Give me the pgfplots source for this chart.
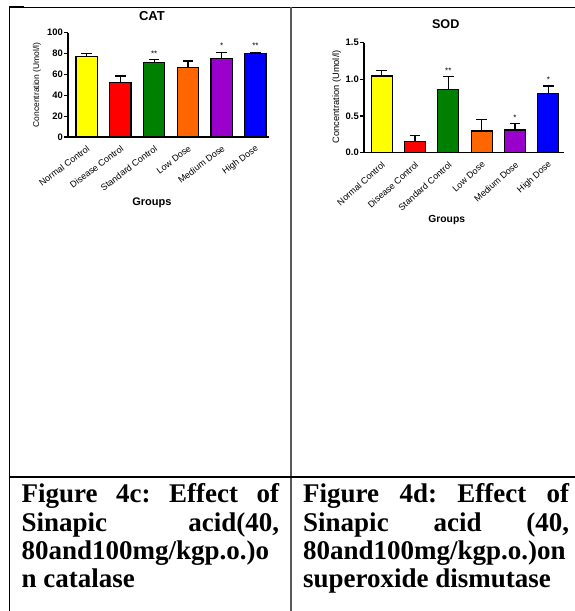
\documentclass[border=0pt]{standalone}
\usepackage{fontspec}
\setmainfont{Liberation Sans}
\newfontfamily\capfont{Liberation Serif}
\usepackage{pgfplots}
\pgfplotsset{compat=1.18}
\frenchspacing
\definecolor{cYellow}{RGB}{255,255,0}
\definecolor{cRed}{RGB}{255,0,0}
\definecolor{cGreen}{RGB}{0,128,0}
\definecolor{cOrange}{RGB}{255,102,0}
\definecolor{cPurple}{RGB}{153,0,204}
\definecolor{cBlue}{RGB}{0,0,255}
\pgfplotsset{
  prism/.style={
    scale only axis,
    axis x line*=bottom, axis y line*=left,
    axis line style={line width=1.3pt, -},
    ybar, ymin=0,
    xtick={0,...,5},
    xticklabels={Normal Control, Disease Control, Standard Control, Low Dose, Medium Dose, High Dose},
    x tick style={draw=none},
    y tick style={line width=1.1pt, black},
    tick align=outside,
    major tick length=4pt,
    every axis title shift=0pt,
    /pgf/number format/assume math mode=true,
    yticklabel style={font=\bfseries\fontsize{9.4}{10}\selectfont, inner sep=1pt},
    clip=false,
  },
  bb/.style={draw=black, line width=1.2pt, bar shift=0pt, bar width=0.63,
    error bars/y dir=plus, error bars/y explicit,
    error bars/error bar style={line width=1.2pt, black},
    error bars/error mark options={rotate=90, black, line width=1.2pt, mark size=5.3pt}},
  stars/.style={draw=none, fill=none, bar shift=0pt, bar width=0.63, forget plot,
    nodes near coords, point meta=explicit symbolic,
    every node near coord/.style={anchor=center, inner sep=0pt, black, font=\fontsize{8}{8}\selectfont}},
}
\begin{document}
\begin{tikzpicture}
\useasboundingbox (0,0) rectangle (575pt,-611pt);
% table rules
\draw[line width=1.5pt] (9.5pt,-7pt) -- (9.5pt,-611pt);
\draw[line width=1pt] (9pt,-7pt) -- (575pt,-7pt);
\draw[line width=2pt] (9pt,-7pt) -- (24pt,-7pt);
\draw[line width=1.5pt, black!65] (291pt,-7pt) -- (291pt,-611pt);
\draw[line width=1.5pt] (9pt,-477pt) -- (575pt,-477pt);

% CAT
\begin{axis}[prism,
  at={(68pt,-137pt)}, anchor=south west,
  width=201.3pt, height=104.3pt,
  xmin=-0.55, xmax=5.41, ymax=100,
  ytick={0,20,40,60,80,100},
  xticklabel style={font=\fontsize{9}{10}\selectfont, inner sep=0pt, anchor=east, xshift=2pt, yshift=-6.5pt, rotate=37},
  title={CAT},
  title style={at={(axis description cs:0.417,1.16)}, anchor=center, font=\bfseries\fontsize{13}{13}\selectfont},
  xlabel={Groups},
  xlabel style={at={(axis description cs:0.417,-0.635)}, anchor=center, font=\bfseries\fontsize{11}{11}\selectfont},
  ylabel={Concentration (Umol/l)},
  ylabel style={at={(axis description cs:-0.154,0.499)}, anchor=center, font=\fontsize{8.5}{9}\selectfont},
]
\addplot[bb, fill=cYellow] coordinates {(0,77) +- (0,3.2)};
\addplot[bb, fill=cRed] coordinates {(1,52) +- (0,6.5)};
\addplot[bb, fill=cGreen] coordinates {(2,71.2) +- (0,3.3)};
\addplot[bb, fill=cOrange] coordinates {(3,67) +- (0,5.9)};
\addplot[bb, fill=cPurple] coordinates {(4,75.5) +- (0,5.7)};
\addplot[bb, fill=cBlue] coordinates {(5,80.2) +- (0,0.5)};
\addplot[stars] coordinates {(2,80.3) [**] (4,87.7) [*] (5,87.7) [**]};
\end{axis}

% SOD
\begin{axis}[prism,
  at={(364pt,-152.7pt)}, anchor=south west,
  width=200.3pt, height=110pt,
  xmin=-0.53, xmax=5.48, ymax=1.5,
  ytick={0,0.5,1,1.5},
  yticklabel style={/pgf/number format/.cd, fixed, fixed zerofill, precision=1},
  xticklabel style={font=\fontsize{9}{10}\selectfont, inner sep=0pt, anchor=east, xshift=2pt, yshift=-6.5pt, rotate=42},
  title={SOD},
  title style={at={(axis description cs:0.408,1.17)}, anchor=center, font=\bfseries\fontsize{12.6}{13}\selectfont},
  xlabel={Groups},
  xlabel style={at={(axis description cs:0.413,-0.61)}, anchor=center, font=\bfseries\fontsize{10.3}{11}\selectfont},
  ylabel={Concentration (Umol/l)},
  ylabel style={at={(axis description cs:-0.136,0.509)}, anchor=center, font=\fontsize{9.3}{10}\selectfont},
]
\addplot[bb, fill=cYellow] coordinates {(0,1.046) +- (0,0.074)};
\addplot[bb, fill=cRed] coordinates {(1,0.155) +- (0,0.077)};
\addplot[bb, fill=cGreen] coordinates {(2,0.865) +- (0,0.172)};
\addplot[bb, fill=cOrange] coordinates {(3,0.296) +- (0,0.159)};
\addplot[bb, fill=cPurple] coordinates {(4,0.31) +- (0,0.09)};
\addplot[bb, fill=cBlue] coordinates {(5,0.805) +- (0,0.105)};
\addplot[stars] coordinates {(2,1.117) [**] (4,0.471) [*] (5,0.989) [*]};
\end{axis}

% captions
\begin{scope}[every node/.style={inner sep=0pt, anchor=base west, font=\capfont\bfseries\fontsize{27}{30}\selectfont}]
\node at (21.5pt,-502.7pt) {\makebox[257.5pt][s]{Figure 4c: Effect of}};
\node at (21.5pt,-531pt) {\makebox[257.5pt][s]{Sinapic acid(40,}};
\node at (21.5pt,-559.3pt) {80and100mg/kgp.o.)o};
\node at (21.5pt,-587.7pt) {n catalase};
\node at (303pt,-502.7pt) {\makebox[266pt][s]{Figure 4d: Effect of}};
\node at (303pt,-531pt) {\makebox[266pt][s]{Sinapic acid (40,}};
\node at (303pt,-559.3pt) {80and100mg/kgp.o.)on};
\node at (303pt,-587.7pt) {superoxide dismutase};
\end{scope}
\end{tikzpicture}
\end{document}
